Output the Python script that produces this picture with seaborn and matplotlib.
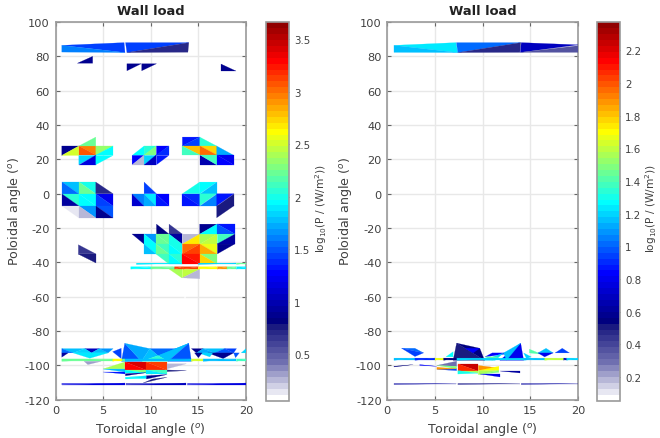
import numpy as np
import matplotlib
matplotlib.use("Agg")
import matplotlib.pyplot as plt
from matplotlib.colors import ListedColormap, Normalize
from matplotlib.tri import Triangulation
import seaborn as sns

TITLE = "Wall load"
XLABEL = "Toroidal angle ($^o$)"
YLABEL = "Poloidal angle ($^o$)"
CBLABEL = "log$_{10}$(P / (W/m$^2$))"
xticks = [0, 5, 10, 15, 20]
yticks = list(range(-120, 101, 20))
clim_left = (0.06, 3.66)
clim_right = (0.057, 2.37)
ticks_left = [0.5, 1, 1.5, 2, 2.5, 3, 3.5]
ticks_right = [0.2, 0.4, 0.6, 0.8, 1, 1.2, 1.4, 1.6, 1.8, 2, 2.2]
ticklabels_left = ["0.5", "1", "1.5", "2", "2.5", "3", "3.5"]
ticklabels_right = ["0.2", "0.4", "0.6", "0.8", "1", "1.2", "1.4", "1.6", "1.8", "2", "2.2"]

# every row: x1, y1, x2, y2, x3, y3, log10(P)
left_dome = [
    (.66,86.4,7.2,88,7.3,82.2,1.42), (.66,86.4,7.3,82.2,.66,82.5,1.58),
    (7.35,88,14,88,7.5,82.2,1.42), (14,88,13.9,82.4,7.5,82.2,.7),
    (2.3,76,3.9,80,3.9,76,.85), (7.5,75.7,9,75.7,7.5,71.6,.85), (9.05,75.7,10.6,75.7,9.05,71.6,.85),
    (17.35,75.7,17.35,71.6,18.9,71.6,.85),
]
left_upper_a = [
    (.66,27.8,2.45,27.8,.66,22.3,.85), (.66,22.3,2.45,27.8,2.45,22.3,2.5),
    (2.45,27.8,4.23,27.8,4.23,22.3,2.95), (2.45,27.8,2.45,22.3,4.23,22.3,3.05),
    (2.45,27.8,4.23,33,4.23,27.8,2.2), (4.23,27.8,6.05,27.8,4.23,22.3,2.35),
    (6.05,27.8,6.05,22.3,4.23,22.3,1.95), (2.45,22.3,4.23,22.3,2.45,16.9,1.85),
    (4.23,22.3,4.23,16.9,2.45,16.9,1.15), (4.23,22.3,6.05,22.3,4.23,16.9,1.95),
]
left_upper_b = [
    (8.04,22.3,9.3,27.8,9.3,22.3,1.95), (9.3,27.8,10.6,27.8,9.3,22.3,2.05),
    (10.6,27.8,10.6,22.3,9.3,22.3,2.3), (10.6,27.8,11.9,27.8,10.6,22.3,1.25),
    (11.9,27.8,11.9,22.3,10.6,22.3,1.4), (8.04,22.3,9.3,22.3,8.04,16.9,1.25),
    (9.3,22.3,9.3,16.9,8.04,16.9,.25), (9.3,22.3,10.6,22.3,9.3,16.9,1.85),
    (10.6,22.3,10.6,16.9,9.3,16.9,1.05), (10.6,22.3,11.9,22.3,10.6,16.9,1.35),
]
left_upper_c = [
    (13.32,33,15.14,33,13.32,27.8,1.3), (15.14,33,15.14,27.8,13.32,27.8,1.45),
    (15.14,33,16.92,27.8,15.14,27.8,2.05), (13.32,27.8,15.14,27.8,15.14,22.3,2.8),
    (13.32,27.8,13.32,22.3,15.14,22.3,2.1), (15.14,27.8,16.92,27.8,16.92,22.3,2.75),
    (15.14,27.8,15.14,22.3,16.92,22.3,3.0), (16.92,27.8,18.74,22.3,16.92,22.3,1.7),
    (15.14,22.3,15.14,16.9,16.92,16.9,1.0), (15.14,22.3,16.92,22.3,16.92,16.9,2.1),
    (16.92,22.3,18.74,22.3,18.74,16.9,1.2), (16.92,22.3,16.92,16.9,18.74,16.9,1.25),
]
left_mid_a = [
    (.66,6.8,2.45,6.8,2.45,0,1.8), (.66,6.8,.66,0,2.45,0,1.55),
    (2.45,6.8,4.23,6.8,4.23,0,2.0), (2.45,6.8,2.45,0,4.23,0,2.2),
    (4.23,6.8,6.05,0,4.23,0,.7), (.66,0,2.45,0,2.45,-7,2.05), (.66,0,.66,-7,2.45,-7,.95),
    (2.45,0,4.23,0,4.23,-7,1.95), (2.45,0,2.45,-7,4.23,-7,1.95),
    (4.23,0,6.05,0,6.05,-7,1.2), (4.23,0,4.23,-7,6.05,-7,1.45),
    (.66,-7,2.45,-7,2.45,-14,.16), (2.45,-7,4.23,-7,4.23,-14,1.65), (2.45,-7,2.45,-14,4.23,-14,.27),
    (4.23,-7,6.05,-7,6.05,-14,1.5), (4.23,-7,4.23,-14,6.05,-14,.85),
]
left_mid_b = [
    (9.3,6.8,10.6,0,9.3,0,1.45), (8.04,0,9.3,0,9.3,-7,1.6), (8.04,0,8.04,-7,9.3,-7,1.1),
    (9.3,0,10.6,0,10.6,-7,1.9), (9.3,0,9.3,-7,10.6,-7,1.7),
    (10.6,0,11.9,0,11.9,-7,1.25), (10.6,0,10.6,-7,11.9,-7,1.3),
]
left_mid_c = [
    (15.14,6.8,13.32,0,15.14,0,2.0), (15.14,6.8,16.92,6.8,15.14,0,1.95), (16.92,6.8,16.92,0,15.14,0,1.8),
    (13.32,0,15.14,0,15.14,-7,1.4), (13.32,0,13.32,-7,15.14,-7,1.35),
    (15.14,0,16.92,0,15.14,-7,2.05), (16.92,0,16.92,-7,15.14,-7,1.6),
    (16.92,0,18.74,0,16.92,-7,1.3), (18.74,0,18.74,-7,16.92,-7,.75), (16.92,-7,18.74,-7,16.92,-14,.75),
]
left_low = [
    (2.4,-29.7,4.23,-35,2.4,-35,.65), (2.4,-35,4.23,-35,4.23,-40.4,.75),
    (10.6,-17.7,11.92,-23.5,10.6,-23.5,.8), (11.92,-17.7,13.32,-23.5,11.92,-23.5,.65),
    (8.04,-23.5,9.3,-23.5,9.3,-29.3,.85), (9.3,-23.5,10.6,-23.5,10.6,-29.3,1.65), (9.3,-23.5,9.3,-29.3,10.6,-29.3,1.95),
    (10.6,-23.5,11.92,-23.5,11.92,-29.3,2.2), (10.6,-23.5,10.6,-29.3,11.92,-29.3,2.2),
    (11.92,-23.5,13.32,-23.5,13.32,-29.3,.95), (11.92,-23.5,11.92,-29.3,13.32,-29.3,2.0),
    (13.32,-23.5,15.14,-23.5,13.32,-29.3,.25), (15.14,-23.5,13.32,-29.3,15.14,-29.3,2.7),
    (15.14,-23.5,17,-23.5,15.14,-29.3,2.4), (17,-23.5,17,-29.3,15.14,-29.3,2.45),
    (15.14,-17.7,17,-17.7,15.14,-23.5,.85), (17,-17.7,17,-23.5,15.14,-23.5,1.95),
    (17,-17.7,18.81,-17.7,18.81,-23.5,1.35), (17,-17.7,17,-23.5,18.81,-23.5,1.5),
    (17,-23.5,18.81,-23.5,17,-29.3,2.1), (18.81,-23.5,18.81,-29.3,17,-29.3,.95),
    (9.3,-29.3,10.6,-29.3,10.6,-35,1.95), (9.3,-29.3,9.3,-35,10.6,-35,1.8),
    (10.6,-29.3,11.92,-29.3,11.92,-35,2.1), (10.6,-29.3,10.6,-35,11.92,-35,2.2),
    (11.92,-29.3,13.32,-29.3,13.32,-35,2.0), (11.92,-29.3,11.92,-35,13.32,-35,1.95),
    (13.32,-29.3,15.14,-29.3,13.32,-35,3.0), (15.14,-29.3,15.14,-35,13.32,-35,3.15),
    (15.14,-29.3,17,-29.3,17,-35,2.55), (15.14,-29.3,15.14,-35,17,-35,2.85),
    (17,-29.3,18.81,-29.3,17,-35,.9),
    (10.6,-35,11.92,-35,11.92,-40.8,2.1), (11.92,-35,13.32,-35,13.32,-40.8,2.05), (11.92,-35,11.92,-40.8,13.32,-40.8,1.95),
    (13.32,-35,15.14,-35,15.14,-40.8,3.25), (13.32,-35,13.32,-40.8,15.14,-40.8,3.3),
    (15.14,-35,17,-35,17,-40.8,2.3), (15.14,-35,15.14,-40.8,17,-40.8,2.75),
    (13.32,-44,15.14,-44,13.32,-49,2.45), (15.14,-44,15.14,-49.5,13.32,-49,.25), (11.92,-44,13.32,-44,13.32,-49,2.4),
    (13.4,-49.5,13.8,-49.5,13.6,-65,.1),
]
left_fans = [
    (.66,-90.2,3.08,-90.2,1.85,-92.7,1.8), (.66,-90.2,1.85,-92.7,.66,-92.7,1.55),
    (3.08,-90.2,4.58,-90.2,3.78,-92.7,1.05), (1.85,-92.7,3.08,-90.2,3.78,-92.7,1.85),
    (3.78,-92.7,4.58,-90.2,5.52,-92.7,1.8), (4.58,-90.2,6.05,-90.2,5.52,-92.7,1.65),
    (.66,-92.7,1.33,-92.7,.66,-95.2,.95), (1.85,-92.7,5.52,-92.7,3.6,-95.8,1.9),
    (3,-97.6,4.8,-97.6,3.4,-99.5,.3), (6,-92,6.9,-90,6.9,-96,1.45),
    (7.27,-87.1,6.92,-97.6,9.02,-97.6,1.5), (7.27,-87.1,9.9,-90.2,9.02,-97.6,1.7),
    (9.9,-90.2,13.04,-90.2,10.77,-94.3,1.55), (9.02,-97.6,9.9,-90.2,10.77,-94.3,1.8),
    (10.77,-94.3,13.04,-90.2,13.99,-87.1,1.7), (13.99,-87.1,11.82,-97.6,10.77,-94.3,1.8),
    (13.99,-87.1,11.82,-97.6,14.27,-97.6,1.5), (9.02,-97.6,10.77,-94.3,11.82,-97.6,2.05),
    (14.27,-90.2,15.49,-90.2,14.8,-92.7,.85), (15.49,-90.2,17.76,-90.2,16.71,-92.7,1.8),
    (14.8,-92.7,15.49,-90.2,16.71,-92.7,1.7), (16.71,-92.7,17.76,-90.2,18.7,-92.7,1.5),
    (17.76,-90.2,19,-90.2,18.7,-92.7,1.45), (19.5,-92.7,20,-90.2,20,-92.7,1.85),
    (16,-92.7,18.7,-92.7,17.6,-96,.9), (15,-92.7,16.5,-92.7,16.2,-95,1.85), (18.7,-92.7,19.3,-92.7,18.9,-95.5,1.5),
    (14.6,-92.7,15.4,-92.7,15,-95.5,.9),
]
left_hot = [
    (5,-102,7.27,-98,7.27,-102,2.4), (5,-102,7.27,-102,7.27,-103.6,1.8), (5,-103.6,7.27,-103.6,7.27,-105,1.35),
    (7.34,-98,9.55,-98,9.55,-102.6,3.4), (7.34,-98,7.34,-102.6,9.55,-102.6,3.3),
    (9.55,-98,11.71,-98,11.71,-102.6,3.1), (9.55,-98,9.55,-102.6,11.71,-102.6,3.2),
    (11.71,-99,13.74,-99,11.71,-102,.25), (11.71,-102.6,13.74,-103,11.71,-103.6,.7),
    (7.34,-102.6,9.55,-102.6,9.55,-104.5,2.3), (7.34,-102.6,7.34,-104.5,9.55,-104.5,1.95),
    (7.34,-104.8,9.55,-104.2,7.34,-106,.85), (9.55,-102.6,11.71,-102.6,11.71,-105,2.1),
    (9.55,-102.6,9.55,-105,11.71,-105,1.9), (7.34,-106.9,9.55,-106,9.55,-107.5,1.9), (7.34,-106.9,9.55,-107.5,7.34,-107.9,1.95),
    (9.55,-106,11.71,-105.3,9.55,-107.9,.9), (10.2,-107.9,11.71,-106.9,9.2,-110.2,.75),
]
# strips: x edges, values (one fewer), lower and upper poloidal angle
left_strip_a_x = [7.9, 10, 12.5, 13.28, 13.4, 15, 17, 18, 19, 20]
left_strip_a_v = [1.95, 2.2, 3.1, 3.1, 3.1, 2.6, 2.9, 2.2, 1.9]
left_strip_a_y = (-43.9, -42.5)
left_strip_b_x = [8.5, 13.28, 15, 19, 20]
left_strip_b_v = [1.9, 0.05, 1.85, 2.2]
left_strip_b_y = (-41.2, -40.4)
left_strip_c_x = [.66, 6, 7, 7.3, 14.27, 15.5, 19, 20]
left_strip_c_v = [2.2, 2.6, 2.2, 1.8, 2.5, 1.75, 2.1]
left_strip_c_y = (-97.6, -96.2)
left_strip_d_x = [.66, 7.25, 7.4, 13.7, 13.85, 20]
left_strip_d_v = [1.15, 0.05, 1.05, 0.05, 1.15]
left_strip_d_y = (-111.1, -110.5)

right_dome = [
    (.7,86.4,7.2,88,7.4,82.2,1.22), (.7,86.4,7.4,82.2,.7,82.3,1.15),
    (7.25,88,14,88,7.4,82.2,1.0), (7.4,82.2,14,88,13.9,82.3,.48),
    (14.05,88,20,86.7,13.95,82.3,.7), (13.95,82.3,20,86.2,20,82.3,.36),
]
right_fans = [
    (1.5,-90,2.9,-90,3.8,-92.7,1.0), (1.5,-90,3.8,-92.7,2.9,-94.8,.95),
    (6.15,-95,6.9,-92,6.9,-95,1.28),
    (7.27,-87,6.9,-97,10.2,-97,.5), (7.27,-87,9.7,-90,10.2,-97,.55), (8.15,-90,9.7,-90,9,-92.7,.85),
    (10.25,-95,11,-92.7,13.2,-92.7,.85), (13.99,-87,11.8,-97,14.3,-97,.8),
    (13.99,-87,12.2,-92.7,12.5,-97,1.15), (10.1,-97,12.2,-92.7,11.3,-97,1.2),
    (10.25,-95,11,-97,11.7,-95,1.4),
    (14.9,-90.5,16.2,-93.5,14.9,-92.7,1.4), (15.8,-92.7,17.4,-92.7,16.65,-90,1.15),
    (15.8,-92.7,17.4,-92.7,16.5,-95,.8), (17.6,-92.7,19.1,-92.7,18.35,-90,.95),
    (14.3,-92.7,15.1,-95,14.6,-96,1.2),
]
right_hot = [
    (.7,-100.5,2.7,-99.5,.7,-100.9,.55), (3.4,-99.5,5.2,-100.5,3.4,-100,.85),
    (5.2,-102.3,7.27,-101.8,7.27,-103,.95), (5.2,-100,7.27,-97.5,7.27,-100.5,.28),
    (5.2,-100,7.27,-100.5,7.27,-102,1.5), (5.2,-101,7.27,-102,5.2,-102.3,1.9),
    (7.4,-99,9.55,-99,9.55,-103,2.25), (7.4,-99,7.4,-103,9.55,-103,2.05),
    (9.55,-100,11.7,-101.5,9.55,-103,1.9), (7.4,-103,9.55,-103,9.55,-104.5,1.55),
    (7.4,-103,9.55,-104.5,7.4,-105,1.3), (9.55,-103,11.7,-100.5,11.7,-103,1.7),
    (9.55,-103,11.7,-103,9.55,-105.3,1.55), (11.7,-103,11.7,-104,9.55,-105.3,1.5),
    (9.7,-105.2,11.8,-105.2,11.8,-106.5,.8), (11.85,-103.5,13.9,-103.5,13.9,-104.2,.6),
]
right_strip_a_x = [.7, 2.9, 5, 5.9, 7.3, 14.3, 16.5, 18.5, 18.8, 20]
right_strip_a_v = [1.17, .9, 1.65, .55, 1.2, 1.17, 1.6, .7, 1.2]
right_strip_a_y = (-97, -95.7)
right_strip_b_x = [.7, 7.25, 7.4, 13.9, 14.05, 20]
right_strip_b_v = [.6, 0.03, .55, 0.03, .6]
right_strip_b_y = (-111, -110.6)

sns.set_theme(style="white", rc={"font.family": "DejaVu Sans", "axes.unicode_minus": False})
segments = (
    sns.blend_palette(["#ffffff", "#6f6fb0", "#1a1a80"], 13)
    + sns.blend_palette(["#00007f", "#0000ff"], 9)[:-1]
    + sns.blend_palette(["#0000ff", "#00ffff"], 13)[:-1]
    + sns.blend_palette(["#00ffff", "#ffff00"], 13)[:-1]
    + sns.blend_palette(["#ffff00", "#ff0000"], 13)[:-1]
    + sns.blend_palette(["#ff0000", "#7f0000"], 8)
)
cmap = ListedColormap(segments[:64])

def strip_tris(edges, values, span):
    lo, hi = span
    out = []
    for a, b, v in zip(edges[:-1], edges[1:], values):
        if v < 0.06:
            continue
        out.append((a, lo, b, lo, b, hi, v))
        out.append((a, lo, b, hi, a, hi, v))
    return out

def draw(ax, cax, tris, clim, ticks, ticklabels, ylabel_x, ylab_x):
    arr = np.array(tris, dtype=float)
    xs = arr[:, [0, 2, 4]].ravel()
    ys = arr[:, [1, 3, 5]].ravel()
    conn = np.arange(len(arr) * 3).reshape(-1, 3)
    tri = Triangulation(xs, ys, conn)
    mesh = ax.tripcolor(tri, facecolors=arr[:, 6], cmap=cmap,
                        norm=Normalize(*clim), edgecolors="face", linewidth=0.15, zorder=3)
    ax.set_xlim(0, 20)
    ax.set_ylim(-120, 100)
    ax.set_xticks(xticks)
    ax.set_yticks(yticks)
    ax.grid(True, color="#e8e8e8", lw=1.0, zorder=0)
    ax.set_axisbelow(True)
    ax.tick_params(direction="in", length=3, width=0.8, color="#666666",
                   top=True, right=True, bottom=True, left=True,
                   labelsize=8.2, labelcolor="#404040", pad=4)
    ax.set_title(TITLE, fontsize=9.4, fontweight="bold", color="#222222", pad=5.5)
    ax.set_xlabel(XLABEL, fontsize=9.1, color="#404040")
    ax.set_ylabel(YLABEL, fontsize=9.1, color="#404040")
    ax.xaxis.set_label_coords(0.5, -0.077, transform=ax.transAxes)
    ax.yaxis.set_label_coords(ylab_x, 0.5, transform=ax.transAxes)
    ax.xaxis.label.set_va("center")
    ax.yaxis.label.set_va("center")
    for s in ax.spines.values():
        s.set_color("#9a9a9a")
        s.set_linewidth(1.2)
    cb = ax.figure.colorbar(mesh, cax=cax)
    cb.set_ticks(ticks)
    cb.set_ticklabels(ticklabels)
    cb.ax.tick_params(direction="in", length=3, width=0.8, color="#555555",
                      labelsize=7.4, labelcolor="#404040", pad=4)
    cb.outline.set_edgecolor("#9a9a9a")
    cb.outline.set_linewidth(1.2)
    cb.ax.text(ylabel_x, 0.51, CBLABEL, rotation=90, va="center", ha="center",
               fontsize=7.6, color="#404040", transform=cb.ax.transAxes)

W, H = 660, 439
fig = plt.figure(figsize=(W / 100, H / 100), dpi=100)
ax1 = fig.add_axes([55.5 / W, 1 - 400.8 / H, 190.5 / W, 377.8 / H])
cax1 = fig.add_axes([265.8 / W, 1 - 401.5 / H, 22.8 / W, 378.2 / H])
ax2 = fig.add_axes([387.3 / W, 1 - 400.8 / H, 190.7 / W, 377.8 / H])
cax2 = fig.add_axes([596.8 / W, 1 - 401.5 / H, 22.8 / W, 378.2 / H])

left_tris = (left_dome + left_upper_a + left_upper_b + left_upper_c + left_mid_a + left_mid_b
             + left_mid_c + left_low + left_fans + left_hot
             + strip_tris(left_strip_a_x, left_strip_a_v, left_strip_a_y)
             + strip_tris(left_strip_b_x, left_strip_b_v, left_strip_b_y)
             + strip_tris(left_strip_c_x, left_strip_c_v, left_strip_c_y)
             + strip_tris(left_strip_d_x, left_strip_d_v, left_strip_d_y))
right_tris = (right_dome + right_fans + right_hot
              + strip_tris(right_strip_a_x, right_strip_a_v, right_strip_a_y)
              + strip_tris(right_strip_b_x, right_strip_b_v, right_strip_b_y))

draw(ax1, cax1, left_tris, clim_left, ticks_left, ticklabels_left, 2.42, -0.213)
draw(ax2, cax2, right_tris, clim_right, ticks_right, ticklabels_right, 2.38, -0.217)
fig.savefig("out.png", dpi=100)
